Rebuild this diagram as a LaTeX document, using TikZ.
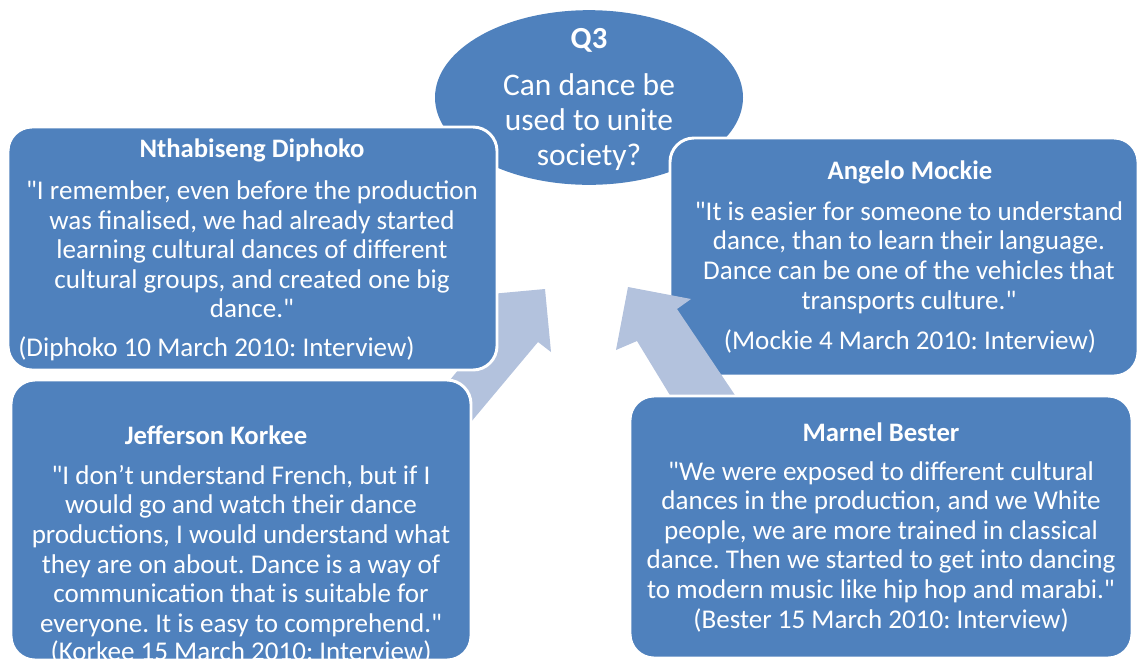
\documentclass[tikz,border=0pt]{standalone}
\usepackage{fontspec}
\setmainfont{Carlito}[Ligatures=TeXOff]
\usepackage{xcolor}
\usetikzlibrary{shapes.geometric}
\definecolor{cardblue}{HTML}{4F81BD}
\definecolor{arrowblue}{HTML}{B3C2DD}
\frenchspacing
\tikzset{
  card/.style={draw=white,fill=cardblue,line width=2.2pt,rounded corners=18pt,
               inner sep=0pt},
  qoval/.style={ellipse,fill=cardblue,inner sep=0pt},
  ovaltitle/.style={text=white,inner sep=0pt,
                    font=\bfseries\fontsize{23}{26}\selectfont},
  ovaltext/.style={text=white,align=center,inner sep=0pt,
                   font=\fontsize{23.6}{26.2}\selectfont},
  cardname/.style={text=white,inner sep=0pt,
                   font=\bfseries\fontsize{20}{22}\selectfont},
  cardtext/.style={text=white,align=center,inner sep=0pt,
                   font=\fontsize{20.3}{22.2}\selectfont},
  cardcite/.style={text=white,inner sep=0pt,font=\fontsize{20.3}{22.2}\selectfont},
  blockarr/.style={fill=arrowblue,draw=none}
}

\begin{document}
\begin{tikzpicture}[x=0.75pt,y=-0.75pt]
    \useasboundingbox (0,0) rectangle (1140,662);
    \node[qoval,minimum width=231pt,minimum height=131pt] (q3) at (589,97.5) {};

    \node[card,minimum width=351pt,minimum height=178.5pt] (mockie) at (904,257) {};

    % block arrows towards the question
    \fill[blockarr] (628,287) -- (691,299) -- (677,309) -- (745,410) -- (679,410)
      -- (637,341) -- (616,350) -- cycle;
    \fill[blockarr] (545,289) -- (551,352) -- (538,342) -- (440,459) -- (400,440)
      -- (494,327) -- (480,295) -- cycle;

    \node[card,minimum width=366.75pt,minimum height=182.25pt] (diphoko) at (252.5,248.5) {};
    \node[card,minimum width=345pt,minimum height=210pt] (korkee) at (241,520) {};
    \node[card,minimum width=376.5pt,minimum height=196.5pt] (bester) at (881,527) {};

    \node[ovaltitle] (q3title) at (589,40) {Q3};
    \node[ovaltext] (q3text) at (589,122) {Can dance be\\used to unite\\society?};

    \node[cardname] (diphokoname) at (252,150) {Nthabiseng Diphoko};
    \node[cardtext] (diphokoquote) at (252,249.5)
      {"I remember, even before the production\\was finalised, we had already started\\learning cultural dances of different\\cultural groups, and created one big\\dance."};
    \node[cardcite,anchor=west] (diphokocite) at (18,349) {(Diphoko 10 March 2010: Interview)};

    \node[cardname] (mockiename) at (910,172) {Angelo Mockie};
    \node[cardtext] (mockiequote) at (909,257.5)
      {"It is easier for someone to understand\\dance, than to learn their language.\\Dance can be one of the vehicles that\\transports culture."};
    \node[cardcite] (mockiecite) at (910,341) {(Mockie 4 March 2010: Interview)};

    \node[cardname] (korkeename) at (216,435) {Jefferson Korkee};
    \node[cardtext] (korkeequote) at (241,551)
      {"I don’t understand French, but if I\\would go and watch their dance\\productions, I would understand what\\they are on about. Dance is a way of\\communication that is suitable for\\everyone. It is easy to comprehend."};
    \node[cardcite] (korkeecite) at (241,652) {(Korkee 15 March 2010: Interview)};

    \node[cardname] (bestername) at (881,432) {Marnel Bester};
    \node[cardtext] (besterquote) at (881,532)
      {"We were exposed to different cultural\\dances in the production, and we White\\people, we are more trained in classical\\dance. Then we started to get into dancing\\to modern music like hip hop and marabi."};
    \node[cardcite] (bestercite) at (881,620) {(Bester 15 March 2010: Interview)};
  \end{tikzpicture}
\end{document}
